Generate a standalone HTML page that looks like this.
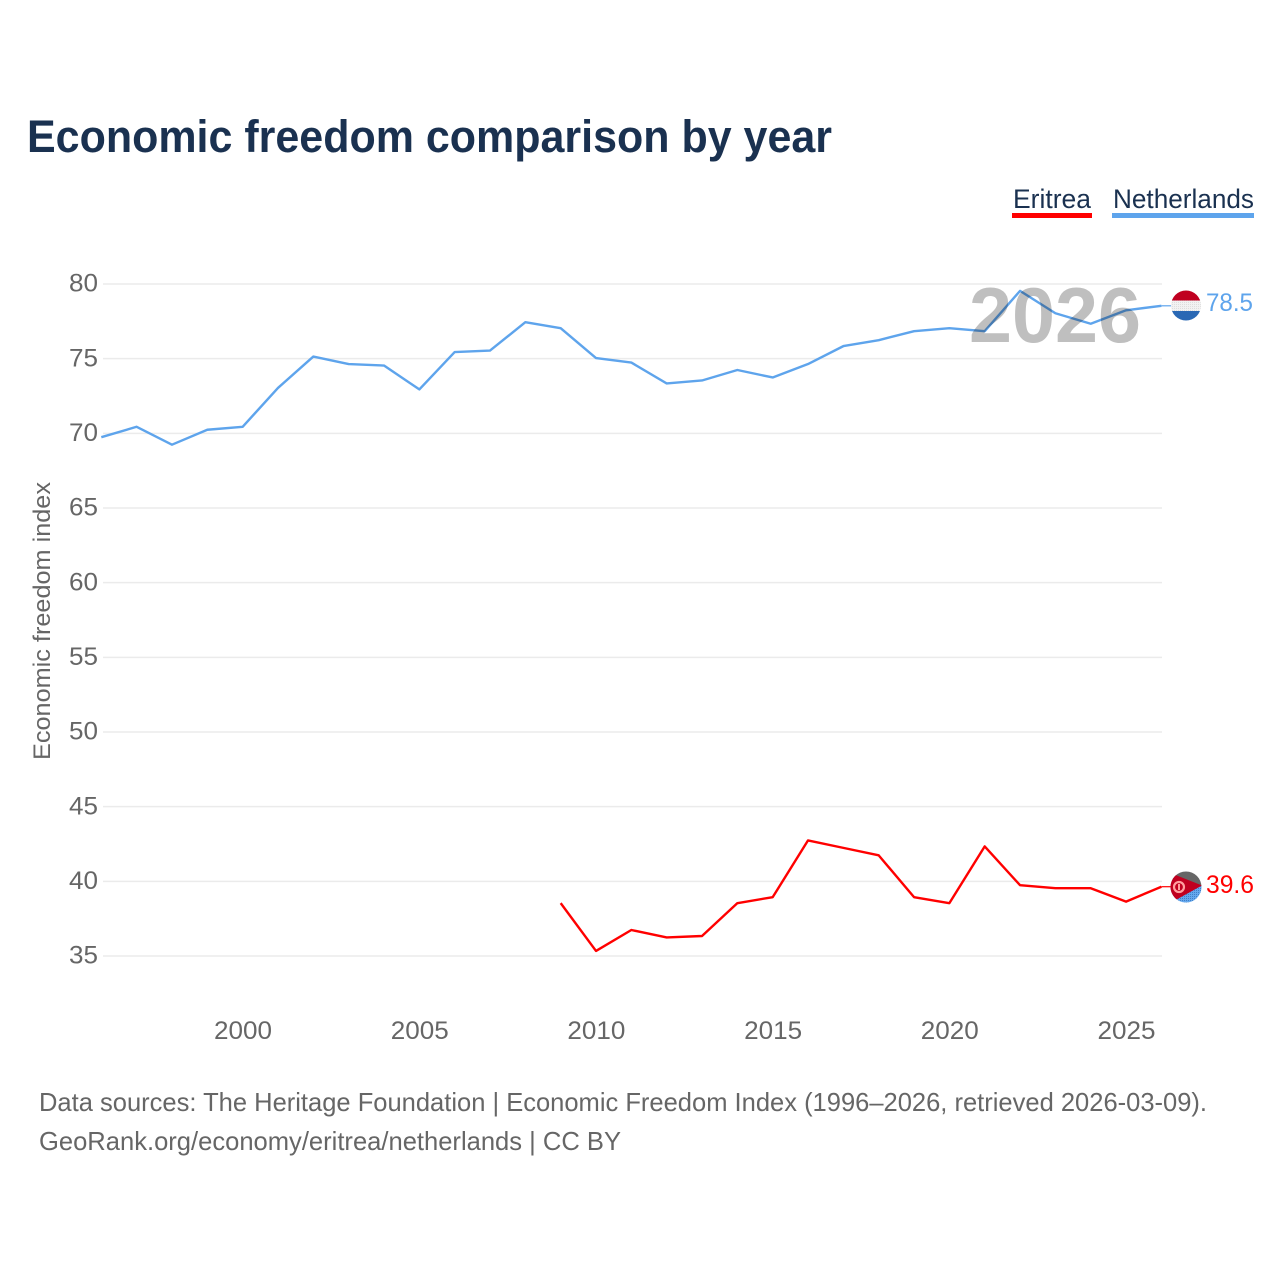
<!DOCTYPE html>
<html lang="en">
<head>
<meta charset="utf-8">
<title>Economic freedom comparison by year</title>
<style>
html,body{margin:0;padding:0;background:#fff;}
svg{display:block;font-family:"Liberation Sans",sans-serif;}
</style>
</head>
<body>
<svg id="chart" xmlns="http://www.w3.org/2000/svg" width="1280" height="1280" viewBox="0 0 1280 1280">
  <defs>
    <clipPath id="nl-clip"><circle cx="1186" cy="305.500" r="15"/></clipPath>
    <clipPath id="er-clip"><circle cx="1186" cy="887" r="15.500"/></clipPath>
    <pattern id="dots" width="2" height="2" patternUnits="userSpaceOnUse"><rect width="2" height="2" fill="#64a8ee"/><rect width="1" height="1" fill="#3f7fc8"/></pattern>
    <pattern id="white-dots" width="2" height="2" patternUnits="userSpaceOnUse"><rect width="2" height="2" fill="#f2f2f2"/><rect width="1" height="1" fill="#dddddd"/></pattern>
  </defs>
  <rect width="1280" height="1280" fill="#ffffff"/>
  <text x="27" y="152" font-size="45" font-weight="700" fill="#1a3150" textLength="805" lengthAdjust="spacingAndGlyphs">Economic freedom comparison by year</text>

  <g>
    <g>
      <text x="1013" y="208" font-size="27" fill="#1a3150" textLength="78" lengthAdjust="spacingAndGlyphs">Eritrea</text>
      <rect x="1012" y="213" width="80" height="5" fill="#ff0000"/>
    </g>
    <g>
      <text x="1113" y="208" font-size="27" fill="#1a3150" textLength="141" lengthAdjust="spacingAndGlyphs">Netherlands</text>
      <rect x="1112" y="213" width="142" height="5" fill="#5ea4ec"/>
    </g>
  </g>

  <g id="grid"></g>
  <g id="y-ticks"></g>
  <g id="x-ticks"></g>
  <text transform="translate(50,760) rotate(-90)" font-size="24" fill="#666666" textLength="278" lengthAdjust="spacingAndGlyphs">Economic freedom index</text>
  <g id="series"></g>
  <text x="969" y="342" font-size="78" font-weight="700" fill="#bfbfbf" textLength="172" lengthAdjust="spacingAndGlyphs" style="mix-blend-mode:multiply">2026</text>

  <g clip-path="url(#nl-clip)">
    <rect x="1170" y="290" width="32" height="10.500" fill="#c00020"/>
    <rect x="1170" y="300.500" width="32" height="10.500" fill="url(#white-dots)"/>
    <rect x="1170" y="311" width="32" height="11" fill="#2a68b4"/>
  </g>
  <g clip-path="url(#er-clip)">
    <rect x="1170" y="871" width="32" height="16" fill="#666666"/>
    <rect x="1170" y="886" width="32" height="18" fill="url(#dots)"/>
    <polygon points="1168,872 1202,885.500 1172,902 1168,902" fill="#c00020"/>
    <circle cx="1179" cy="887" r="5" fill="none" stroke="#ffa0a0" stroke-width="2.200"/>
    <rect x="1178" y="884" width="2" height="6" fill="#ffa0a0"/>
  </g>
  <text id="label-nl" x="1206" y="311" font-size="25" fill="#5ea4ec" textLength="47" lengthAdjust="spacingAndGlyphs"></text>
  <text id="label-er" x="1206" y="893" font-size="25" fill="#ff0000" textLength="48" lengthAdjust="spacingAndGlyphs"></text>

  <text x="39" y="1111" font-size="26" fill="#666666" textLength="1168" lengthAdjust="spacingAndGlyphs">Data sources: The Heritage Foundation | Economic Freedom Index (1996–2026, retrieved 2026-03-09).</text>
  <text x="39" y="1150" font-size="26" fill="#666666" textLength="582" lengthAdjust="spacingAndGlyphs">GeoRank.org/economy/eritrea/netherlands | CC BY</text>
</svg>
<script>
const netherlandsYears = [1996,1997,1998,1999,2000,2001,2002,2003,2004,2005,2006,2007,2008,2009,2010,2011,2012,2013,2014,2015,2016,2017,2018,2019,2020,2021,2022,2023,2024,2025,2026];
const netherlandsValues = [69.7,70.4,69.2,70.2,70.4,73.0,75.1,74.6,74.5,72.9,75.4,75.5,77.4,77.0,75.0,74.7,73.3,73.5,74.2,73.7,74.6,75.8,76.2,76.8,77.0,76.8,79.5,78.0,77.3,78.2,78.5];
const eritreaYears = [2009,2010,2011,2012,2013,2014,2015,2016,2017,2018,2019,2020,2021,2022,2023,2024,2025,2026];
const eritreaValues = [38.5,35.3,36.7,36.2,36.3,38.5,38.9,42.7,42.2,41.7,38.9,38.5,42.3,39.7,39.5,39.5,38.6,39.6];
const yTickLabels = [35,40,45,50,55,60,65,70,75,80];
const xTickLabels = [2000,2005,2010,2015,2020,2025];

const NS = 'http://www.w3.org/2000/svg';
function xScale(year){ return 101.3 + (year - 1996) * (1161.4 - 101.3) / 30; }
function yScale(value){ return 956 - (value - 35) * (956 - 284) / 45; }
function make(tag, parent, attrs){
  const el = document.createElementNS(NS, tag);
  for (const k in attrs) el.setAttribute(k, attrs[k]);
  parent.appendChild(el);
  return el;
}
const grid = document.getElementById('grid');
const yTicks = document.getElementById('y-ticks');
const xTicks = document.getElementById('x-ticks');
const series = document.getElementById('series');

yTickLabels.forEach(function(v){
  const line = make('line', grid, {x1:103, x2:1162, y1:yScale(v), y2:yScale(v), stroke:'#ebebeb', 'stroke-width':1.5});
  
  
  const t = make('text', yTicks, {x:98, y:yScale(v) + 7.7, 'text-anchor':'end', 'font-size':25, fill:'#666666', textLength:29, lengthAdjust:'spacingAndGlyphs'});
  
  
  t.textContent = v;
});
xTickLabels.forEach(function(v){
  const t = make('text', xTicks, {x:xScale(v) + 0.4, y:1039, 'text-anchor':'middle', 'font-size':25, fill:'#666666', textLength:58, lengthAdjust:'spacingAndGlyphs'});
  
  
  t.textContent = v;
});
function lineY(value){ return yScale(value) - 0.6; }
function pathFor(years, values){
  return values.map(function(v, i){ return (i ? 'L' : 'M') + xScale(years[i]).toFixed(2) + ' ' + lineY(v).toFixed(2); }).join(' ');
}
const nlLine = make('path', series, {d:pathFor(netherlandsYears, netherlandsValues), fill:'none', stroke:'#5ea4ec', 'stroke-width':2.4, 'stroke-linejoin':'round'});


const erLine = make('path', series, {d:pathFor(eritreaYears, eritreaValues), fill:'none', stroke:'#ff0000', 'stroke-width':2.4, 'stroke-linejoin':'round'});



const nlLast = netherlandsValues[netherlandsValues.length - 1];
const erLast = eritreaValues[eritreaValues.length - 1];
const nlConn = make('line', series, {x1:xScale(2026), x2:1172, y1:lineY(nlLast), y2:lineY(nlLast), stroke:'#5ea4ec', 'stroke-width':1.2});


const erConn = make('line', series, {x1:xScale(2026), x2:1172, y1:lineY(erLast), y2:lineY(erLast), stroke:'#ff0000', 'stroke-width':1.2});


document.getElementById('label-nl').textContent = nlLast.toFixed(1);
document.getElementById('label-er').textContent = erLast.toFixed(1);
</script>
</body>
</html>
